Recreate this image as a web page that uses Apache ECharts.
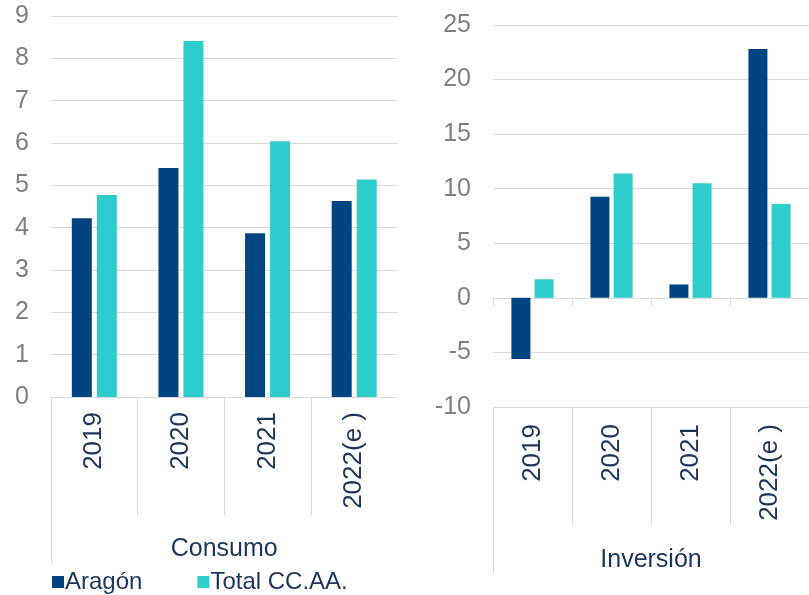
<!DOCTYPE html>
<html>
<head>
<meta charset="utf-8">
<script src="https://cdn.jsdelivr.net/npm/echarts@6/dist/echarts.min.js"></script>
<style>
  html, body { margin: 0; padding: 0; background: #ffffff; }
  #chart { width: 809px; height: 595px; }
</style>
</head>
<body>
<div id="chart"></div>
<script>
// Categories and series values (% growth)
const categories = ['2019', '2020', '2021', '2022(e )'];
const consumoAragon = [4.22, 5.41, 3.87, 4.63];
const consumoTotal = [4.77, 8.41, 6.04, 5.14];
const inversionAragon = [-5.6, 9.26, 1.23, 22.8];
const inversionTotal = [1.7, 11.4, 10.5, 8.6];
const seriesNames = ['Aragón', 'Total CC.AA.'];
const groupNames = ['Consumo', 'Inversión'];

const navy = '#004481';
const aqua = '#2dcccd';
const gridGray = '#d9d9d9';
const tickGray = '#808080';
const textNavy = '#1b365d';
const font = '"Liberation Sans", Arial, sans-serif';

// Panel geometry
const L = { left: 51, top: 16, width: 346.5, height: 381 };
const R = { left: 493, top: 25, width: 324, height: 382 };
const sepH = 118, frameH = 166;

const chart = echarts.init(document.getElementById('chart'), null, { renderer: 'canvas' });

function valueAxis(gridIndex, min, max, interval) {
  return {
    type: 'value', gridIndex, min, max, interval,
    axisLine: { show: false }, axisTick: { show: false },
    axisLabel: { color: tickGray, fontFamily: font, fontSize: 25, margin: 22 },
    splitLine: { lineStyle: { color: gridGray, width: 1 } }
  };
}
function hiddenValue(gridIndex, showLine) {
  return {
    type: 'value', gridIndex, min: 0, max: 1,
    axisLine: { show: !!showLine, lineStyle: { color: gridGray, width: 1 } },
    axisTick: { show: false }, axisLabel: { show: false }, splitLine: { show: false }
  };
}
function sepAxis(gridIndex) {
  return {
    type: 'category', gridIndex, data: categories, position: 'top',
    axisLine: { show: false }, axisTick: { show: false }, axisLabel: { show: false },
    splitLine: { show: true, showMinLine: false, showMaxLine: false,
                 lineStyle: { color: gridGray, width: 1 } }
  };
}
function hiddenCat(gridIndex) {
  return {
    type: 'category', gridIndex, data: categories,
    axisLine: { show: false }, axisTick: { show: false }, axisLabel: { show: false },
    splitLine: { show: false }
  };
}

const option = {
  backgroundColor: '#ffffff',
  animation: false,
  legend: {
    data: seriesNames,
    left: 47, top: 565,
    icon: 'rect', itemWidth: 12, itemHeight: 12, itemGap: 55,
    textStyle: { color: textNavy, fontFamily: font, fontSize: 24, padding: [0, 0, 0, -4] }
  },
  grid: [
    { left: L.left, top: L.top, width: L.width, height: L.height },
    { left: L.left, top: L.top + L.height, width: L.width, height: sepH },
    { left: L.left, top: L.top + L.height, width: L.width, height: frameH },
    { left: R.left, top: R.top, width: R.width, height: R.height },
    { left: R.left, top: R.top + R.height, width: R.width, height: sepH },
    { left: R.left, top: R.top + R.height, width: R.width, height: frameH }
  ],
  xAxis: [
    // 0: Consumo categories
    {
      type: 'category', gridIndex: 0, data: categories,
      axisLine: { show: true, lineStyle: { color: gridGray, width: 1 } },
      axisTick: { show: false },
      axisLabel: { rotate: 90, margin: 15, color: textNavy, fontFamily: font, fontSize: 26 },
      name: groupNames[0], nameLocation: 'middle', nameGap: 140,
      nameTextStyle: { color: textNavy, fontFamily: font, fontSize: 25 }
    },
    sepAxis(1),
    hiddenCat(2),
    // 3: Inversión categories (labels at the bottom of the panel)
    {
      type: 'category', gridIndex: 3, data: categories,
      axisLine: { show: false, onZero: false },
      axisTick: { show: false },
      axisLabel: { rotate: 90, margin: 17, color: textNavy, fontFamily: font, fontSize: 26 },
      name: groupNames[1], nameLocation: 'middle', nameGap: 141,
      nameTextStyle: { color: textNavy, fontFamily: font, fontSize: 25 }
    },
    sepAxis(4),
    hiddenCat(5),
    // 6: zero line with boundary ticks for Inversión
    {
      type: 'category', gridIndex: 3, data: categories, position: 'bottom',
      axisLine: { show: true, onZero: true, lineStyle: { color: gridGray, width: 1 } },
      axisTick: { show: true, length: 8, lineStyle: { color: gridGray, width: 1 } },
      axisLabel: { show: false }, splitLine: { show: false }
    }
  ],
  yAxis: [
    valueAxis(0, 0, 9, 1),
    hiddenValue(1, false),
    hiddenValue(2, true),
    valueAxis(3, -10, 25, 5),
    hiddenValue(4, false),
    hiddenValue(5, true)
  ],
  series: [
    { name: seriesNames[0], type: 'bar', xAxisIndex: 0, yAxisIndex: 0, data: consumoAragon,
      barWidth: 20, barGap: '25%', itemStyle: { color: navy } },
    { name: seriesNames[1], type: 'bar', xAxisIndex: 0, yAxisIndex: 0, data: consumoTotal,
      barWidth: 20, barGap: '25%', itemStyle: { color: aqua } },
    { name: seriesNames[0], type: 'bar', xAxisIndex: 3, yAxisIndex: 3, data: inversionAragon,
      barWidth: 19, barGap: '22%', itemStyle: { color: navy } },
    { name: seriesNames[1], type: 'bar', xAxisIndex: 3, yAxisIndex: 3, data: inversionTotal,
      barWidth: 19, barGap: '22%', itemStyle: { color: aqua } }
  ]
};

chart.setOption(option);
</script>
</body>
</html>
